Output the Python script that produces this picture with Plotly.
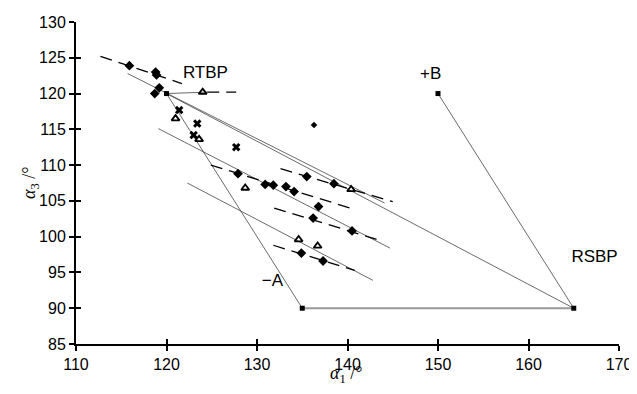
import plotly.graph_objects as go

# corner points (RTBP, -A, +B, RSBP)
corner_names = ["RTBP", "−A", "+B", "RSBP"]
corner_x = [120, 135, 150, 165]
corner_y = [120, 90, 120, 90]

diamond_x = [115.9, 118.8, 118.9, 119.2, 118.7, 127.9, 130.9, 131.8, 133.2, 134.1,
             135.5, 138.5, 136.8, 136.2, 140.5, 134.9, 137.3]
diamond_y = [123.9, 123.0, 122.6, 120.8, 120.0, 108.8, 107.3, 107.2, 107.0, 106.3,
             108.4, 107.4, 104.2, 102.6, 100.8, 97.7, 96.6]
small_diamond_x = [136.3]
small_diamond_y = [115.6]

triangle_x = [124.0, 121.0, 123.6, 128.7, 140.4, 134.6, 136.7]
triangle_y = [120.2, 116.5, 113.6, 106.8, 106.6, 99.6, 98.7]

cross_x = [121.4, 123.4, 123.0, 127.7]
cross_y = [117.7, 115.8, 114.2, 112.5]

# thin straight lines (start x, start y, end x, end y)
thin_lines = [
    (120, 120, 165, 90),
    (120, 120, 135, 90),
    (150, 120, 165, 90),
    (115.7, 122.8, 144.1, 104.7),
    (119.1, 115.1, 144.7, 98.4),
    (122.3, 107.5, 142.8, 93.9),
    (120, 120, 124.5, 120.2),
]
# base line -A to RSBP
base_x = [135, 165]
base_y = [90, 90]

# dashed segments
dashed_lines = [
    (112.7, 125.2, 121.7, 121.4),
    (132.6, 109.5, 145.0, 104.9),
    (124.9, 110.0, 140.3, 104.0),
    (131.9, 104.0, 143.8, 99.4),
    (131.8, 98.8, 140.8, 95.3),
    (124.5, 120.2, 127.7, 120.2),
]

x_ticks = [110, 120, 130, 140, 150, 160, 170]
y_ticks = [85, 90, 95, 100, 105, 110, 115, 120, 125, 130]

x_title = "<i>α</i><sub>1</sub> /°"
y_title = "<i>α</i><sub>3</sub> /°"

fig = go.Figure()

for (x0, y0, x1, y1) in thin_lines:
    fig.add_trace(go.Scatter(x=[x0, x1], y=[y0, y1], mode="lines",
                             line=dict(color="#444444", width=0.8), showlegend=False, hoverinfo="skip"))
fig.add_trace(go.Scatter(x=base_x, y=base_y, mode="lines",
                         line=dict(color="#999999", width=2), showlegend=False, hoverinfo="skip"))
for (x0, y0, x1, y1) in dashed_lines:
    fig.add_trace(go.Scatter(x=[x0, x1], y=[y0, y1], mode="lines",
                             line=dict(color="black", width=1.3, dash="12px,7px"),
                             showlegend=False, hoverinfo="skip"))

fig.add_trace(go.Scatter(x=diamond_x, y=diamond_y, mode="markers",
                         marker=dict(symbol="diamond", size=7.5, color="black"), showlegend=False))
fig.add_trace(go.Scatter(x=small_diamond_x, y=small_diamond_y, mode="markers",
                         marker=dict(symbol="diamond", size=5, color="black"), showlegend=False))
fig.add_trace(go.Scatter(x=triangle_x, y=triangle_y, mode="markers",
                         marker=dict(symbol="triangle-up-open", size=7, color="black",
                                     line=dict(width=1.8, color="black")), showlegend=False))
fig.add_trace(go.Scatter(x=cross_x, y=cross_y, mode="markers",
                         marker=dict(symbol="x", size=7.5, color="black",
                                     line=dict(width=0)), showlegend=False))
fig.add_trace(go.Scatter(x=corner_x, y=corner_y, mode="markers",
                         marker=dict(symbol="square", size=5, color="black"), showlegend=False))

label_x = [124.3, 131.7, 149.2, 167.3]
label_y = [122.8, 93.7, 122.6, 97.0]
fig.add_trace(go.Scatter(x=label_x, y=label_y, mode="text",
                         text=corner_names,
                         textfont=dict(family="Liberation Sans, Arial", size=17, color="black"),
                         showlegend=False, hoverinfo="skip", cliponaxis=False))

# invisible trace on overlay axes (ticks drawn inside, so ticks cross the axis line)
fig.add_trace(go.Scatter(x=[110], y=[85], xaxis="x2", yaxis="y2", mode="markers",
                         marker=dict(opacity=0), showlegend=False, hoverinfo="skip"))

tickfont = dict(family="Liberation Sans, Arial", size=16, color="black")
axis_common = dict(showgrid=False, zeroline=False, showline=True, linecolor="black", linewidth=2,
                   ticks="outside", ticklen=5, tickwidth=1.5, tickcolor="black",
                   tickfont=tickfont, automargin=False)

title_font = dict(family="Liberation Serif, Times New Roman", size=18, color="black")

# the page body adds an 8px margin, so the figure is sized to fit inside it
fig.update_layout(
    width=629, height=386, margin=dict(l=68, r=18, t=14, b=50),
    plot_bgcolor="white", paper_bgcolor="white",
    xaxis=dict(range=[110, 170], tickvals=x_ticks, ticktext=[str(v) for v in x_ticks], **axis_common),
    yaxis=dict(range=[85, 130], tickvals=y_ticks, ticktext=[str(v) for v in y_ticks], **axis_common),
    xaxis2=dict(range=[110, 170], overlaying="x", side="bottom", tickvals=x_ticks,
                showticklabels=False, ticks="inside", ticklen=5, tickwidth=1.5, tickcolor="black",
                showgrid=False, zeroline=False, showline=False, automargin=False),
    yaxis2=dict(range=[85, 130], overlaying="y", side="left", tickvals=y_ticks,
                showticklabels=False, ticks="inside", ticklen=5, tickwidth=1.5, tickcolor="black",
                showgrid=False, zeroline=False, showline=False, automargin=False),
    annotations=[
        dict(text=x_title, xref="x", x=139.8, yref="paper", y=0, yshift=-30, yanchor="middle",
             showarrow=False, font=title_font),
        dict(text=y_title, xref="paper", x=0, xshift=-46, xanchor="center", yref="y", y=107.5,
             textangle=-90, showarrow=False, font=title_font),
    ],
)

fig.write_html("out.html")
